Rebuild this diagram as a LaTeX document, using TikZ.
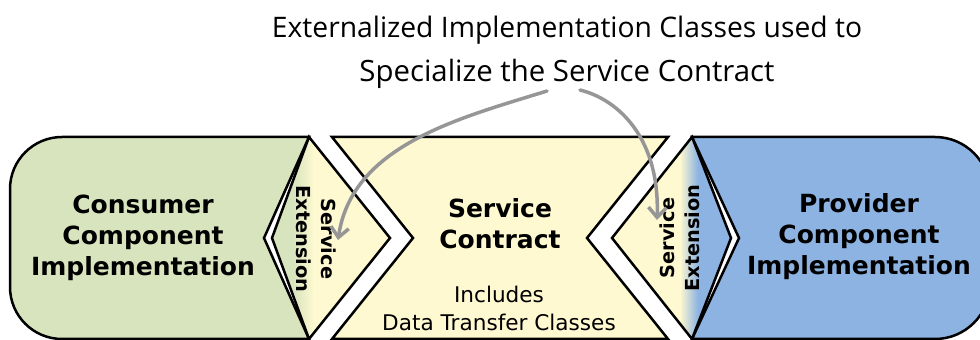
\documentclass[tikz,border=0pt]{standalone}
\usepackage{fontspec}
\setmainfont{DejaVu Sans}
\newfontfamily\handfont{Open Sans}
\usetikzlibrary{arrows.meta}
\definecolor{consgreen}{RGB}{215,228,189}
\definecolor{contyellow}{RGB}{254,249,208}
\definecolor{provblue}{RGB}{141,179,226}
\definecolor{arrowgray}{RGB}{150,150,150}
\tikzset{
  shapeline/.style={draw=black, line width=2.5pt, line join=miter},
  biglabel/.style={font=\bfseries\fontsize{25}{31}\selectfont, align=center, inner sep=0pt},
  extlabel/.style={font=\bfseries\fontsize{19.3}{25}\selectfont, align=center, inner sep=0pt},
  smalllabel/.style={font=\fontsize{21.6}{28}\selectfont, align=center, inner sep=0pt},
  titlelabel/.style={font=\handfont, inner sep=0pt},
  pointer/.style={draw=arrowgray, line width=3.5pt, line cap=round, -{Straight Barb[length=10pt,width=18pt,line width=3.5pt]}}
}
\begin{document}
\begin{tikzpicture}[x=1pt,y=1pt]
\useasboundingbox (0,0) rectangle (980,340);
% consumer
\fill[consgreen] (309,203) -- (62,203) arc[start angle=90,end angle=180,radius=52] -- (10,53) arc[start angle=180,end angle=270,radius=52] -- (309,1) -- (264,102) -- cycle;
\draw[shapeline] (309,203) -- (62,203) arc[start angle=90,end angle=180,radius=52] -- (10,53) arc[start angle=180,end angle=270,radius=52] -- (309,1) -- (264,102) -- cycle;
% provider
\fill[provblue] (692,203) -- (935,203) arc[start angle=90,end angle=0,radius=55] -- (990,56) arc[start angle=0,end angle=-90,radius=55] -- (692,1) -- (739,102) -- cycle;
\draw[shapeline] (692,203) -- (935,203) arc[start angle=90,end angle=0,radius=55] -- (990,56) arc[start angle=0,end angle=-90,radius=55] -- (692,1) -- (739,102) -- cycle;
% contract
\fill[contyellow] (332,203) -- (668,203) -- (587,102) -- (668,1) -- (332,1) -- (413,102) -- cycle;
\draw[shapeline] (332,203) -- (668,203) -- (587,102) -- (668,1) -- (332,1) -- (413,102) -- cycle;
% left extension
\begin{scope}
\clip (309,203) -- (390,102) -- (309,1) -- (272,102) -- cycle;
\fill[consgreen] (260,0) rectangle (293,210);
\shade[left color=consgreen,right color=contyellow] (293,0) rectangle (314,210);
\fill[contyellow] (314,0) rectangle (400,210);
\end{scope}
\draw[shapeline] (309,203) -- (390,102) -- (309,1) -- (272,102) -- cycle;
% right extension
\begin{scope}
\clip (692,203) -- (731,102) -- (692,1) -- (612,102) -- cycle;
\fill[contyellow] (600,0) rectangle (680,210);
\shade[left color=contyellow,right color=provblue] (680,0) rectangle (698,210);
\fill[provblue] (698,0) rectangle (740,210);
\end{scope}
\draw[shapeline] (692,203) -- (731,102) -- (692,1) -- (612,102) -- cycle;
% labels
\node[biglabel] (consumer) at (143,102) {Consumer\\Component\\Implementation};
\node[biglabel] (provider) at (859,103) {Provider\\Component\\Implementation};
\node[biglabel] (contract) at (500,116) {Service\\Contract};
\node[smalllabel] (includes) at (499,32) {Includes\\Data Transfer Classes};
\node[extlabel, rotate=-90] (extleft) at (316,101) {Service\\Extension};
\node[extlabel, rotate=90] (extright) at (680,102) {Service\\Extension};
\node[titlelabel] (title1) at (567,310) {\resizebox{590pt}{!}{Externalized Implementation Classes used to}};
\node[titlelabel] (title2) at (567,266) {\resizebox{415pt}{!}{Specialize the Service Contract}};
% pointers
\coordinate (lstart) at (547,249);
\coordinate (lend) at (338,100);
\coordinate (rstart) at (580,250);
\coordinate (rend) at (657,120);
\draw[pointer] (lstart) .. controls (460,222) and (352,195) .. (lend);
\draw[pointer] (rstart) .. controls (620,240) and (660,200) .. (rend);
\end{tikzpicture}
\end{document}
